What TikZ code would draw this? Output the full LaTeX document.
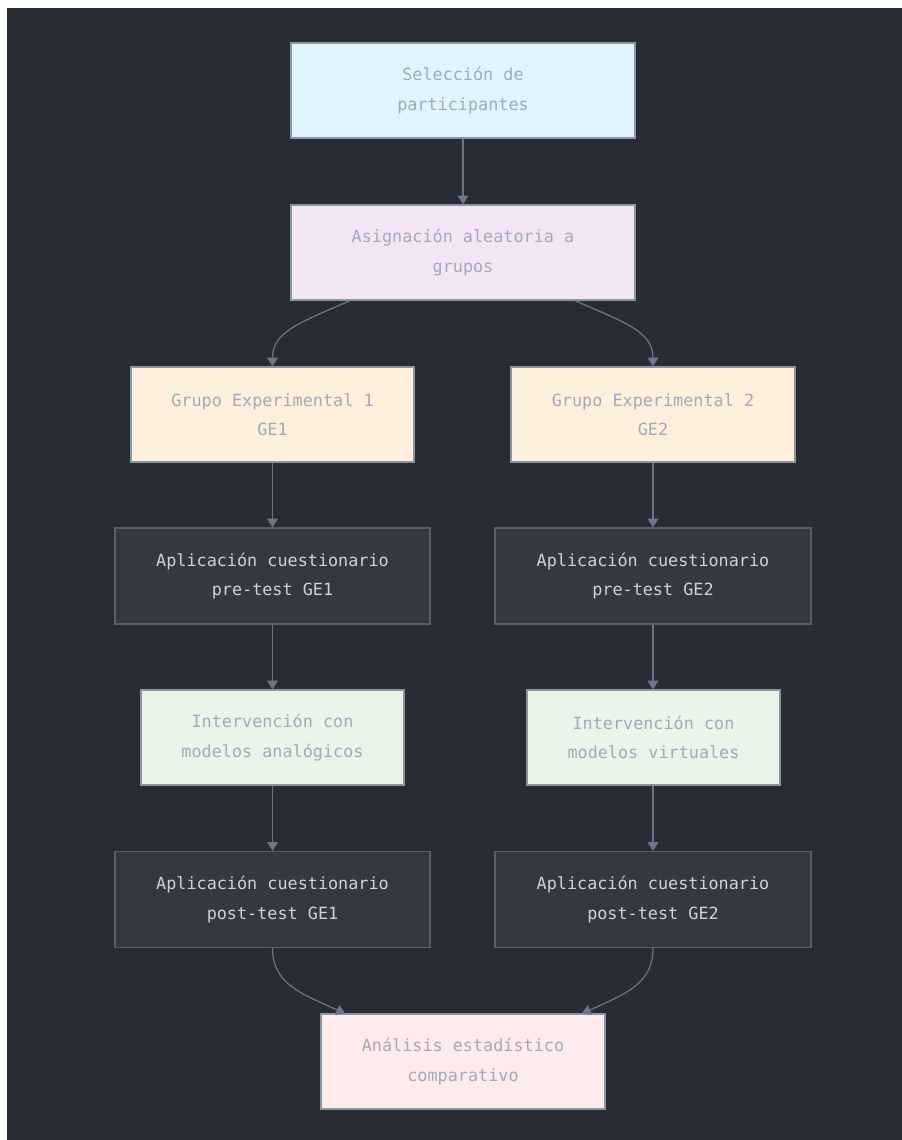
\documentclass[tikz,border=0pt]{standalone}
\usepackage{fontspec}
\setmonofont{DejaVu Sans Mono}
\usetikzlibrary{arrows.meta}
\definecolor{bg}{HTML}{282C35}
\definecolor{cblue}{HTML}{E0F4FD}
\definecolor{cpink}{HTML}{F3E5F5}
\definecolor{ccream}{HTML}{FFF0DD}
\definecolor{cdark}{HTML}{343842}
\definecolor{cgreen}{HTML}{E8F5E9}
\definecolor{crose}{HTML}{FFEAEC}
\definecolor{lborder}{HTML}{8C93A3}
\definecolor{dborder}{HTML}{575D6B}
\definecolor{ltext}{HTML}{A2A9BA}
\definecolor{dtext}{HTML}{CDD2DB}
\definecolor{edge}{HTML}{6C7589}
\tikzset{
  boxbase/.style={rectangle, inner sep=0pt, align=center, line width=0.9pt,
    font=\ttfamily\fontsize{12.6}{22}\selectfont},
  lbox/.style={boxbase, draw=lborder, text=ltext, minimum height=71.25pt},
  dbox/.style={boxbase, draw=dborder, fill=cdark, text=dtext, minimum height=72pt},
  arr/.style={draw=edge, line width=0.9pt, -{Triangle[length=6.5pt,width=8pt]}}
}
\begin{document}
\begin{tikzpicture}[x=0.75pt,y=-0.75pt]
\useasboundingbox (0,0) rectangle (902,1140);
\fill[white] (0,0) rectangle (902,1140);
\fill[bg] (7,8) rectangle (902,1140);

\node[lbox, fill=cblue, minimum width=258pt] (b1) at (463,90.5) {Selección de\\participantes};
\node[lbox, fill=cpink, minimum width=258pt] (b2) at (463,252.5) {Asignación aleatoria a\\grupos};
\node[lbox, fill=ccream, minimum width=212.25pt] (g1) at (272.5,414.5) {Grupo Experimental 1\\GE1};
\node[lbox, fill=ccream, minimum width=213pt] (g2) at (653,414.5) {Grupo Experimental 2\\GE2};
\node[dbox, minimum width=236.25pt] (p1) at (272.5,576) {Aplicación cuestionario\\pre-test GE1};
\node[dbox, minimum width=237pt] (p2) at (653,576) {Aplicación cuestionario\\pre-test GE2};
\node[lbox, fill=cgreen, minimum width=197.25pt] (i1) at (272.5,737.5) {Intervención con\\modelos analógicos};
\node[lbox, fill=cgreen, minimum width=189.75pt] (i2) at (653.5,737.5) {Intervención con\\modelos virtuales};
\node[dbox, minimum width=236.25pt] (q1) at (272.5,899.5) {Aplicación cuestionario\\post-test GE1};
\node[dbox, minimum width=237pt] (q2) at (653,899.5) {Aplicación cuestionario\\post-test GE2};
\node[lbox, fill=crose, minimum width=213pt] (an) at (463,1061.5) {Análisis estadístico\\comparativo};

\draw[arr] (b1.south) -- (b2.north);
\draw[arr] ([xshift=-84.75pt]b2.south) .. controls +(-50,22) and +(0,-35) .. (g1.north);
\draw[arr] ([xshift=84pt]b2.south) .. controls +(50,22) and +(0,-35) .. (g2.north);
\draw[arr] (g1.south) -- (p1.north);
\draw[arr] (g2.south) -- (p2.north);
\draw[arr] (p1.south) -- (i1.north -| p1.south);
\draw[arr] (p2.south) -- (i2.north -| p2.south);
\draw[arr] (i1.south) -- (q1.north);
\draw[arr] (i2.south -| q2.north) -- (q2.north);
\draw[arr] (q1.south) .. controls +(0,35) and +(-45,-20) .. ([xshift=-88.5pt]an.north);
\draw[arr] (q2.south) .. controls +(0,35) and +(45,-20) .. ([xshift=89.25pt]an.north);
\end{tikzpicture}
\end{document}
